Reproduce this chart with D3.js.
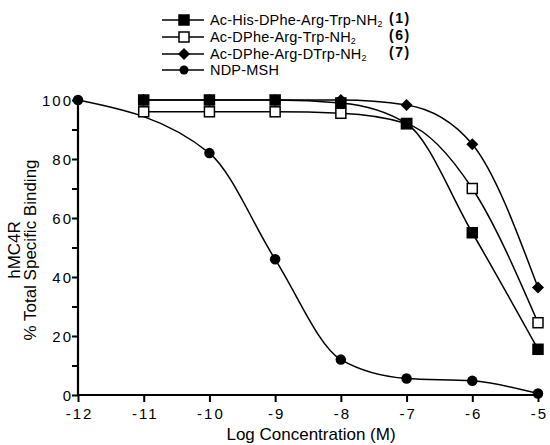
<!DOCTYPE html>
<html>
<head>
<meta charset="utf-8">
<script src="https://cdn.jsdelivr.net/npm/d3@7"></script>
<style>
  body { margin: 0; background: #fff; }
  text { font-family: "Liberation Sans", Arial, sans-serif; fill: #000; }
</style>
</head>
<body>
<svg id="chart" width="550" height="445"></svg>
<script>
// Data
const logConc = [-12, -11, -10, -9, -8, -7, -6, -5];
const cmpd1 = [null, 100, 100, 100, 99, 92, 55, 15.5];      // Ac-His-DPhe-Arg-Trp-NH2
const cmpd6 = [null, 96, 96, 96, 95.5, 92, 70, 24.5];       // Ac-DPhe-Arg-Trp-NH2
const cmpd7 = [null, 100, 100, 100, 100, 98.3, 85, 36.4];   // Ac-DPhe-Arg-DTrp-NH2
const ndpMsh = [100, null, 82, 46, 12, 5.6, 4.8, 0.5];      // NDP-MSH
const xTicks = [-12, -11, -10, -9, -8, -7, -6, -5];
const yTicks = d3.range(0, 101, 10);

const series = [
    { name: "Ac-His-DPhe-Arg-Trp-NH", sub: "2", num: "(1)", values: cmpd1, marker: "square", fill: "#000" },
    { name: "Ac-DPhe-Arg-Trp-NH", sub: "2", num: "(6)", values: cmpd6, marker: "square", fill: "#fff" },
    { name: "Ac-DPhe-Arg-DTrp-NH", sub: "2", num: "(7)", values: cmpd7, marker: "diamond", fill: "#000" },
    { name: "NDP-MSH", sub: "", num: "", values: ndpMsh, marker: "circle", fill: "#000" }
];

const svg = d3.select("#chart");

const x = d3.scaleLinear().domain([-12, -5]).range([78, 538]);
const y = d3.scaleLinear().domain([0, 100]).range([395, 100]);

// Axes
const yAxis = svg.append("g")
    .attr("transform", `translate(${x(-12)},0)`)
    .call(d3.axisLeft(y).tickValues(yTicks).tickSize(6)
        .tickFormat(d => d % 20 === 0 ? String(d) : ""));
const xAxis = svg.append("g")
    .attr("transform", `translate(0,${y(0)})`)
    .call(d3.axisBottom(x).tickValues(xTicks).tickSize(7)
        .tickFormat(d => String(d)));

[xAxis, yAxis].forEach(g => {
    g.select(".domain").attr("stroke", "#000").attr("stroke-width", 2.2);
    g.selectAll(".tick line").attr("stroke", "#000").attr("stroke-width", 2);
    g.selectAll(".tick text").attr("fill", "#000")
        .style("font-size", "15px")
        .style("letter-spacing", "2px")
        .style("font-family", "Liberation Sans, Arial, sans-serif");
});
yAxis.select(".domain").attr("d", `M0,${y(0)}V${y(100)}`);
xAxis.select(".domain").attr("d", `M${x(-12)},0H${x(-5)}`);
yAxis.selectAll(".tick text").attr("x", -5).attr("dy", "0.36em");
xAxis.selectAll(".tick text").attr("y", 13).attr("dx", "1px");

// Axis titles
svg.append("text")
    .attr("x", 311).attr("y", 440)
    .attr("text-anchor", "middle")
    .style("font-size", "17px")
    .text("Log Concentration (M)");

const yTitle = svg.append("text")
    .attr("transform", `translate(20,250) rotate(-90)`)
    .attr("text-anchor", "middle")
    .style("font-size", "17px");
yTitle.append("tspan").attr("x", 0).attr("dy", 0).text("hMC4R");
yTitle.append("tspan").attr("x", 0).attr("dy", 16).text("% Total Specific Binding");

// Curves
const line = d3.line()
    .defined(d => d.v != null)
    .x(d => x(d.c))
    .y(d => y(d.v))
    .curve(d3.curveMonotoneX);

function drawMarker(g, type, fill, size) {
    if (type === "square") {
        g.append("rect")
            .attr("x", -size / 2).attr("y", -size / 2)
            .attr("width", size).attr("height", size)
            .attr("fill", fill).attr("stroke", "#000").attr("stroke-width", 1.5);
    } else if (type === "diamond") {
        const s = size * 0.6;
        g.append("path")
            .attr("d", `M0,${-s}L${s},0L0,${s}L${-s},0Z`)
            .attr("fill", fill);
    } else {
        g.append("circle").attr("r", size / 2).attr("fill", fill);
    }
}

const drawOrder = [3, 2, 1, 0];
drawOrder.forEach(i => {
    const s = series[i];
    const pts = logConc.map((c, j) => ({ c: c, v: s.values[j] })).filter(d => d.v != null);
    svg.append("path")
        .datum(pts)
        .attr("d", line)
        .attr("fill", "none")
        .attr("stroke", "#000")
        .attr("stroke-width", 1.5);
});
drawOrder.forEach(i => {
    const s = series[i];
    const pts = logConc.map((c, j) => ({ c: c, v: s.values[j] })).filter(d => d.v != null);
    pts.forEach(d => {
        const g = svg.append("g").attr("transform", `translate(${x(d.c)},${y(d.v)})`);
        drawMarker(g, s.marker, s.fill, s.marker === "circle" ? 10.5 : 10);
    });
});

// Legend
const legendY = [20, 37, 54, 70];
series.forEach((s, i) => {
    const ly = legendY[i];
    svg.append("line")
        .attr("x1", 162).attr("x2", 204)
        .attr("y1", ly).attr("y2", ly)
        .attr("stroke", "#000").attr("stroke-width", 1.5);
    const g = svg.append("g").attr("transform", `translate(184,${ly})`);
    drawMarker(g, s.marker, s.fill, s.marker === "circle" ? 9 : 10);
    const t = svg.append("text")
        .attr("x", 210).attr("y", ly + 5)
        .style("font-size", "14.5px")
        .style("letter-spacing", "0.2px");
    t.append("tspan").text(s.name);
    if (s.sub) {
        t.append("tspan").attr("dy", 2).style("font-size", "9px").text(s.sub);
    }
    if (s.num) {
        svg.append("text")
            .attr("x", 389).attr("y", ly + 3)
            .style("font-size", "14px")
            .style("font-weight", "bold")
            .style("letter-spacing", "1.5px")
            .text(s.num);
    }
});
</script>
</body>
</html>
